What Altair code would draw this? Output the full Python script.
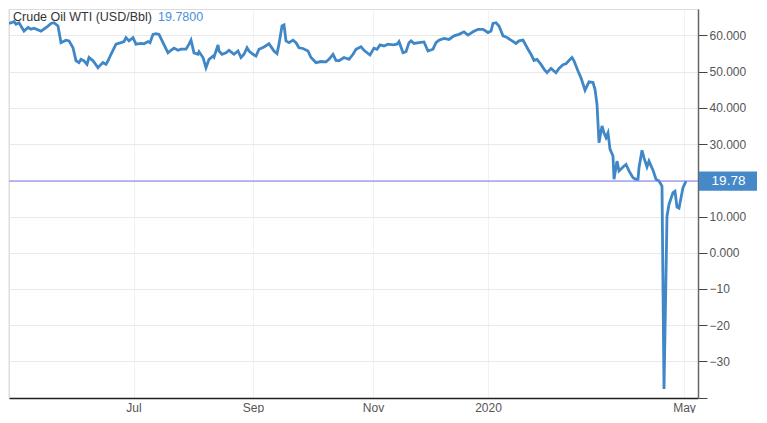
import altair as alt
import pandas as pd

# horizontal position of each reading (session axis units) and WTI price (USD/Bbl)
T_POS = [0, 5, 7, 10, 15, 19, 22, 25, 32, 39, 42, 45, 49, 52, 57, 60, 64, 67, 70, 72, 75, 78, 80, 84, 89, 92, 94, 97, 99, 102,
         107, 112, 115, 117, 120, 124, 127, 132, 135, 139, 141, 144, 147, 150, 154, 159, 162, 165, 169, 172, 177, 180, 182, 185, 189, 190, 194, 197, 200, 204,
         205, 209, 210, 213, 217, 220, 225, 229, 232, 235, 238, 240, 244, 247, 250, 255, 260, 263, 265, 268, 270, 273, 275, 277, 280, 284, 287, 290, 294, 299,
         302, 307, 312, 317, 320, 324, 327, 330, 335, 340, 344, 347, 352, 355, 361, 365, 368, 371, 375, 379, 384, 388, 390, 394, 397, 400, 402, 405, 410, 415,
         419, 424, 427, 430, 435, 440, 445, 450, 455, 459, 464, 469, 474, 479, 482, 484, 487, 490, 494, 497, 502, 507, 510, 514, 519, 522, 525, 528, 532, 535,
         538, 542, 547, 550, 554, 557, 560, 563, 565, 569, 572, 576, 580, 584, 586, 588, 590, 593, 595, 597, 599, 601, 604, 605, 608, 610, 614, 617, 620, 624,
         627, 629, 630, 633, 635, 638, 640, 644, 647, 650, 653, 655, 658, 660, 664, 666, 668, 670, 674, 677]
PRICE = [63.3, 63.8, 63.1, 63.5, 61.2, 62.2, 61.7, 62.0, 61.2, 62.6, 63.3, 63.5, 62.6, 58.0, 58.7, 58.5, 56.6, 53.0, 52.5, 53.4, 53.0, 52.0, 53.9, 53.0, 51.1, 52.0, 52.5, 52.0, 53.0, 54.8,
         57.6, 58.0, 58.3, 59.4, 58.5, 59.4, 57.6, 57.8, 57.7, 58.3, 58.0, 60.3, 60.5, 60.3, 58.0, 55.2, 55.9, 56.5, 55.9, 56.2, 56.2, 57.6, 58.7, 55.2, 54.8, 55.5, 53.9, 51.1, 53.4, 54.3,
         54.0, 57.4, 55.7, 54.8, 55.2, 55.9, 54.8, 55.7, 53.9, 54.8, 56.6, 55.7, 54.8, 54.3, 56.2, 56.8, 57.7, 56.5, 55.7, 55.0, 57.6, 62.6, 62.9, 58.5, 58.0, 58.7, 58.0, 56.6, 56.4, 55.7,
         53.9, 52.5, 52.8, 52.7, 53.4, 54.8, 53.1, 53.0, 53.9, 53.4, 54.8, 56.2, 56.9, 55.9, 54.6, 56.5, 56.2, 57.4, 57.1, 57.6, 57.4, 57.6, 58.3, 55.2, 55.5, 58.0, 58.5, 57.8, 58.0, 58.2,
         55.7, 56.2, 58.0, 58.7, 59.2, 58.9, 59.9, 60.3, 61.0, 60.1, 61.0, 61.7, 61.7, 60.8, 61.2, 63.3, 63.5, 62.6, 59.9, 59.6, 58.7, 57.8, 58.5, 58.7, 56.2, 54.8, 53.1, 53.4, 52.0, 50.7,
         49.7, 50.9, 49.7, 50.9, 51.9, 52.2, 53.1, 53.9, 53.0, 50.2, 48.3, 44.9, 47.2, 47.0, 45.1, 41.0, 30.4, 35.0, 33.1, 31.8, 33.1, 28.6, 26.7, 20.3, 25.3, 22.6, 23.7, 24.4, 22.6, 20.7,
         20.3, 20.3, 23.5, 28.3, 26.2, 23.7, 25.3, 22.8, 20.3, 19.8, 18.4, -37.6, 10.1, 13.4, 16.6, 17.0, 12.6, 12.3, 18.0, 19.78]

TICK_POS = [124.5, 244, 364, 479, 675]
TICK_LABELS = ["Jul", "Sep", "Nov", "2020", "May"]
Y_TICKS = [-40, -30, -20, -10, 0, 10, 20, 30, 40, 50, 60]

LAST = 19.78
TITLE = "Crude Oil WTI (USD/Bbl)"
TITLE_VALUE = "19.7800"
BOX_LABEL = "19.78"

LINE_COLOR = "#3f87c7"
FONT = "Liberation Sans"

df = pd.DataFrame({"t": T_POS, "price": PRICE})
last_df = pd.DataFrame({"price": [LAST], "lo": [LAST - 2.65], "hi": [LAST + 2.65], "lab": [BOX_LABEL]})
one = pd.DataFrame({"a": [0]})

label_map = "{" + ",".join(f"'{p}':'{l}'" for p, l in zip(TICK_POS, TICK_LABELS)) + "}"

x_scale = alt.Scale(domain=[0, 689], nice=False, zero=False)
y_scale = alt.Scale(domain=[-40.1, 67.3], nice=False, zero=False)

y_axis = alt.Axis(
    orient="right", values=Y_TICKS, title=None, grid=True, gridColor="#e9e9e9",
    labelExpr="datum.value == -40 || datum.value == 20 ? '' : (datum.value >= 0 ? format(datum.value, '.3f') : format(datum.value, 'd'))",
    tickSize=9, tickColor="#444", domainColor="#666", domainWidth=1.5, labelPadding=2,
    labelColor="#555", labelFontSize=12, labelFont=FONT)

line = alt.Chart(df).mark_line(color=LINE_COLOR, strokeWidth=2.8, clip=True).encode(
    x=alt.X("t:Q", scale=x_scale, axis=alt.Axis(
        values=TICK_POS, labelExpr=f"{label_map}[''+datum.value]", title=None,
        orient="bottom", ticks=False, labelPadding=4, labelColor="#555", labelFontSize=12,
        labelFont=FONT, domainColor="#222", domainWidth=1.5, gridColor="#edf3f3", grid=True,
        labelFlush=False)),
    y=alt.Y("price:Q", scale=y_scale, axis=y_axis),
)

left_border = alt.Chart(one).mark_rule(color="#dddddd", strokeWidth=1).encode(x=alt.value(0))

hline = alt.Chart(last_df).mark_rule(color="#7b7bf2", strokeWidth=1).encode(
    y=alt.Y("price:Q", scale=y_scale, axis=y_axis))

box = alt.Chart(last_df).mark_rect(color="#4589c8").encode(
    x=alt.value(690), x2=alt.value(748), y=alt.Y("lo:Q", scale=y_scale, axis=y_axis), y2="hi:Q")

box_text = alt.Chart(last_df).mark_text(color="white", fontSize=13.5, font=FONT, align="center",
                                        baseline="middle").encode(
    x=alt.value(719.5), y=alt.Y("price:Q", scale=y_scale, axis=y_axis), text="lab:N")

title1 = alt.Chart(one).mark_text(text=TITLE, color="#333", fontSize=12.5, font=FONT, align="left",
                                  baseline="middle").encode(x=alt.value(4), y=alt.value(7.5))
title2 = alt.Chart(one).mark_text(text=TITLE_VALUE, color="#4a90d9", fontSize=12.5, font=FONT, align="left",
                                  baseline="middle").encode(x=alt.value(149), y=alt.value(7.5))

chart = alt.layer(left_border, line, hline, box, box_text, title1, title2).properties(
    width=689, height=389, padding={"left": 0, "top": 0, "right": 0, "bottom": 0}
).configure_view(stroke=None).configure(background="white")

chart.save("out.html", embed_options={"renderer": "svg", "actions": False})
